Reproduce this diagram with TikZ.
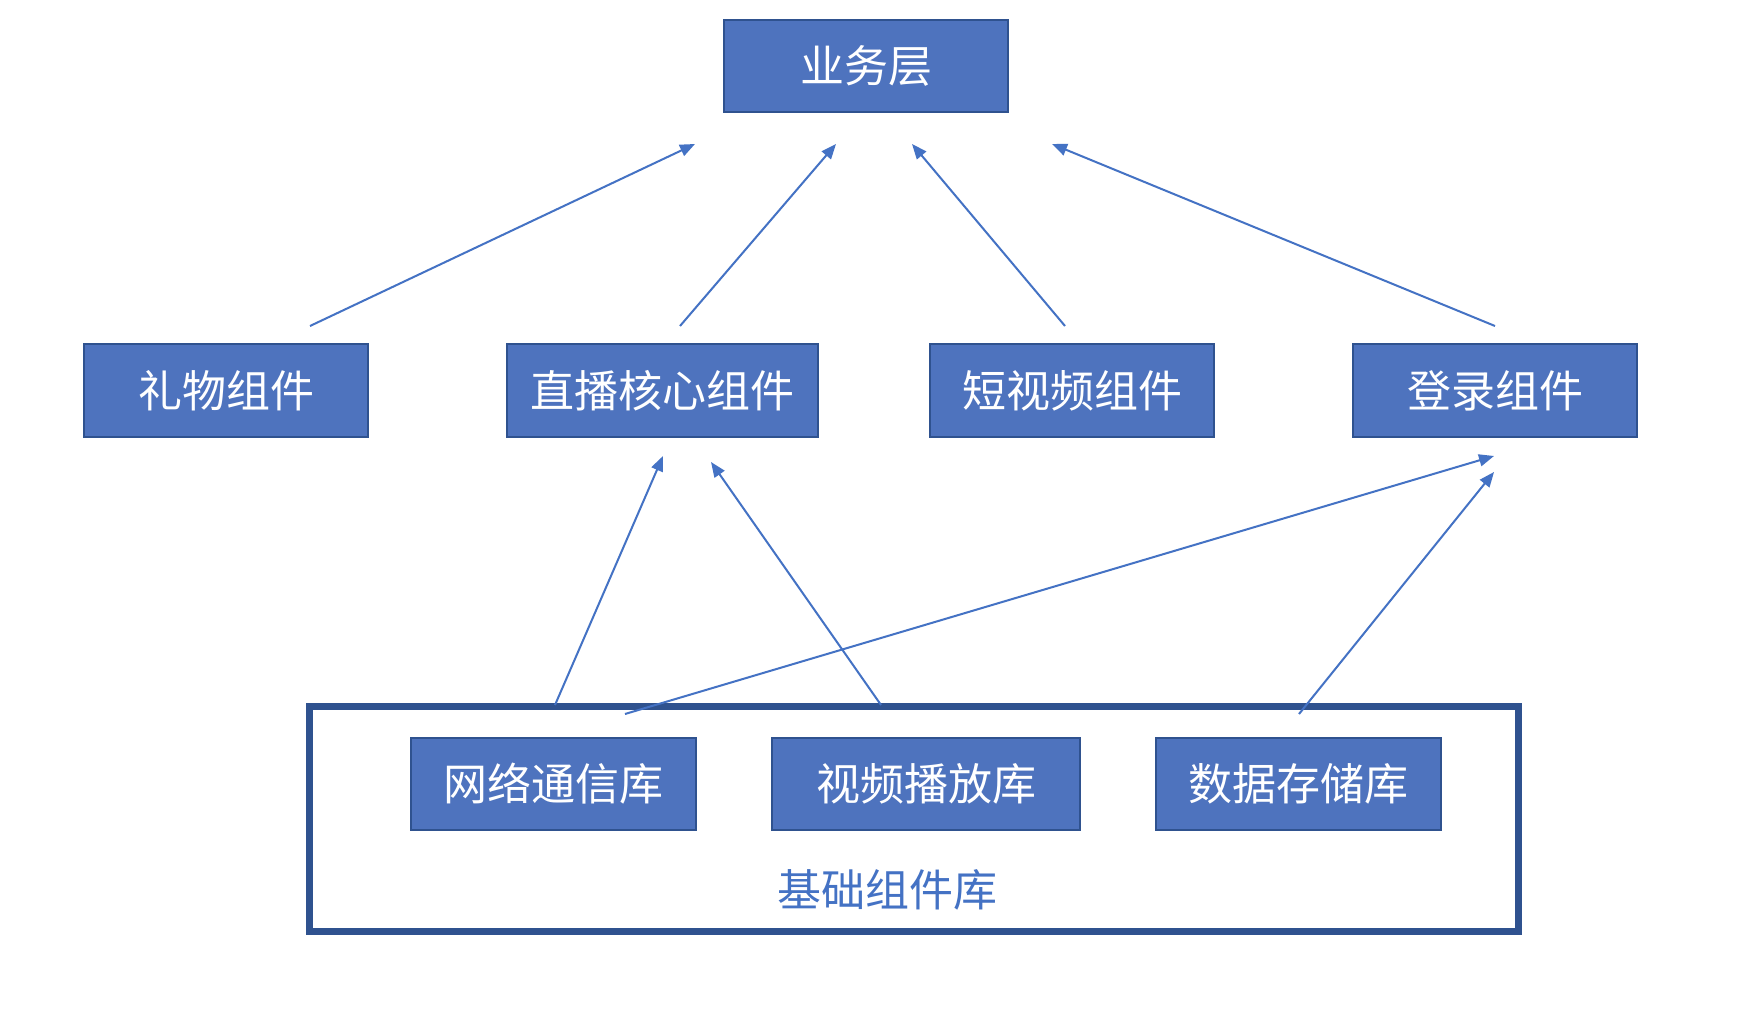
\documentclass[tikz,border=0pt]{standalone}
\usepackage{fontspec}
\newfontfamily\cjk{Noto Sans CJK SC}
\usetikzlibrary{arrows.meta}
\definecolor{boxfill}{HTML}{4E73BE}
\definecolor{boxline}{HTML}{2F528F}
\definecolor{arrowc}{HTML}{4472C4}
\definecolor{labelc}{HTML}{4472C4}
\tikzset{
  blk/.style={draw=boxline, line width=2pt, fill=boxfill, text=white,
    minimum height=92pt, inner sep=0pt, font=\cjk\fontsize{44}{52}\selectfont},
  conn/.style={draw=arrowc, line width=2pt, -{Triangle[length=15pt,width=12pt]}},
}
\begin{document}
\begin{tikzpicture}[x=1pt,y=-1pt]
\useasboundingbox[fill=white] (0,0) rectangle (1738,1024);
% container
\node[draw=boxline, line width=7pt, minimum width=1209pt, minimum height=225pt, inner sep=0pt] (base) at (913.5,818.5) {};
\node[text=labelc, font=\cjk\fontsize{44}{52}\selectfont] (baselabel) at (887,890) {基础组件库};
% top
\node[blk, minimum width=284pt] (biz) at (866,66) {业务层};
% middle
\node[blk, minimum width=284pt] (gift) at (226,390.5) {礼物组件};
\node[blk, minimum width=311pt] (live) at (662.5,390.5) {直播核心组件};
\node[blk, minimum width=284pt] (short) at (1072,390.5) {短视频组件};
\node[blk, minimum width=284pt] (login) at (1495,390.5) {登录组件};
% bottom
\node[blk, minimum width=285pt] (net) at (553.5,784) {网络通信库};
\node[blk, minimum width=308pt] (play) at (926,784) {视频播放库};
\node[blk, minimum width=285pt] (store) at (1298.5,784) {数据存储库};
% connector end points
\coordinate (g1) at (310,326);   \coordinate (b1) at (695,144);
\coordinate (l1) at (680,326);   \coordinate (b2) at (836,144);
\coordinate (s1) at (1065,326);  \coordinate (b3) at (912,144);
\coordinate (o1) at (1495,326);  \coordinate (b4) at (1052,144);
\coordinate (n1) at (555,705);   \coordinate (l2) at (663,456);
\coordinate (p1) at (881,705);   \coordinate (l3) at (711,462);
\coordinate (n2) at (625,714);   \coordinate (o2) at (1494,456);
\coordinate (d1) at (1299,714);  \coordinate (o3) at (1494,472);
\draw[conn] (g1) -- (b1);
\draw[conn] (l1) -- (b2);
\draw[conn] (s1) -- (b3);
\draw[conn] (o1) -- (b4);
\draw[conn] (n1) -- (l2);
\draw[conn] (p1) -- (l3);
\draw[conn] (n2) -- (o2);
\draw[conn] (d1) -- (o3);
\end{tikzpicture}
\end{document}
